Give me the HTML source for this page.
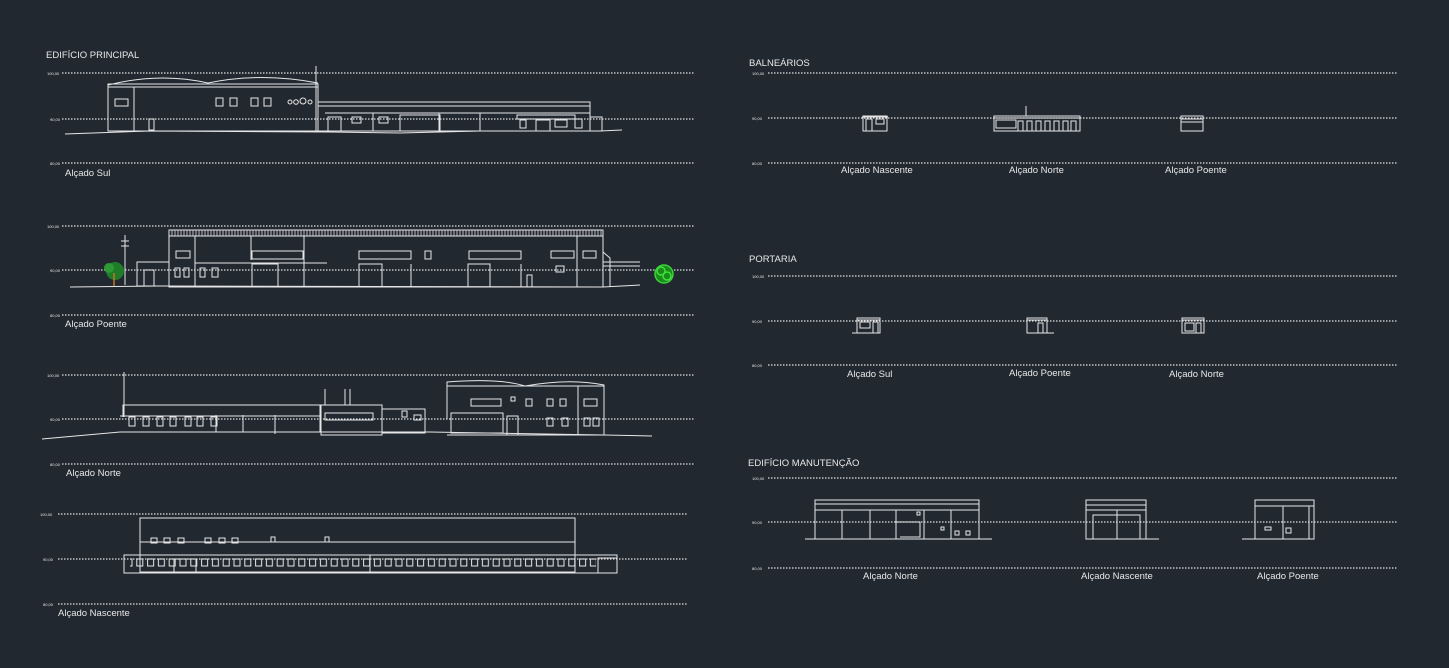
<!DOCTYPE html>
<html><head><meta charset="utf-8"><style>
html,body{margin:0;padding:0;background:#212830;}
svg{display:block}
text{font-family:"Liberation Sans",sans-serif;fill:#e8e8e8}
.d{stroke:#e0e0e0;stroke-width:1.3;stroke-dasharray:1.5 1.5;fill:none}
.s{stroke:#e6e6e6;stroke-width:1;fill:none}
.lv{font-size:4px}
.lb{font-size:9.5px}
.t{font-size:9.5px}
</style></head><body>
<svg width="1449" height="668" viewBox="0 0 1449 668" xmlns="http://www.w3.org/2000/svg">
<defs>
<pattern id="win" x="124" y="557" width="10.8" height="12" patternUnits="userSpaceOnUse">
<rect x="2" y="2" width="6" height="7" fill="none" stroke="#e6e6e6" stroke-width="1"/>
</pattern>
<pattern id="rail" x="0" y="0" width="3" height="6" patternUnits="userSpaceOnUse">
<line x1="1" y1="0" x2="1" y2="6" stroke="#ddd" stroke-width="0.8"/>
</pattern>
</defs>

<text x="46" y="58" class="t">EDIFÍCIO PRINCIPAL</text>
<text x="749" y="66" class="t">BALNEÁRIOS</text>
<text x="749" y="262" class="t">PORTARIA</text>
<text x="748" y="466" class="t">EDIFÍCIO MANUTENÇÃO</text>

<g class="d">
<line x1="62" y1="73" x2="695" y2="73"/><line x1="62" y1="119" x2="695" y2="119"/><line x1="62" y1="163" x2="695" y2="163"/>
<line x1="62" y1="226" x2="695" y2="226"/><line x1="62" y1="270" x2="695" y2="270"/><line x1="62" y1="315" x2="695" y2="315"/>
<line x1="62" y1="375" x2="695" y2="375"/><line x1="62" y1="419" x2="695" y2="419"/><line x1="62" y1="464" x2="695" y2="464"/>
<line x1="58" y1="514" x2="688" y2="514"/><line x1="58" y1="559" x2="688" y2="559"/><line x1="58" y1="604" x2="688" y2="604"/>
<line x1="768" y1="73" x2="1397" y2="73"/><line x1="768" y1="118" x2="1397" y2="118"/><line x1="768" y1="163" x2="1397" y2="163"/>
<line x1="768" y1="276" x2="1397" y2="276"/><line x1="768" y1="321" x2="1397" y2="321"/><line x1="768" y1="365" x2="1397" y2="365"/>
<line x1="768" y1="478" x2="1397" y2="478"/><line x1="768" y1="522" x2="1397" y2="522"/><line x1="768" y1="568" x2="1397" y2="568"/>
</g>
<g class="lv">
<text x="47" y="75">100,00</text><text x="50" y="121">90,00</text><text x="50" y="165">80,00</text>
<text x="47" y="228">100,00</text><text x="50" y="272">90,00</text><text x="50" y="317">80,00</text>
<text x="47" y="377">100,00</text><text x="50" y="421">90,00</text><text x="50" y="466">80,00</text>
<text x="40" y="516">100,00</text><text x="43" y="561">90,00</text><text x="43" y="606">80,00</text>
<text x="752" y="75">100,00</text><text x="752" y="120">90,00</text><text x="752" y="165">80,00</text>
<text x="752" y="278">100,00</text><text x="752" y="323">90,00</text><text x="752" y="367">80,00</text>
<text x="752" y="480">100,00</text><text x="752" y="524">90,00</text><text x="752" y="570">80,00</text>
</g>

<g class="lb">
<text x="65" y="176">Alçado Sul</text>
<text x="65" y="327">Alçado Poente</text>
<text x="66" y="476">Alçado Norte</text>
<text x="58" y="616">Alçado Nascente</text>
<text x="841" y="173">Alçado Nascente</text>
<text x="1009" y="173">Alçado Norte</text>
<text x="1165" y="173">Alçado Poente</text>
<text x="847" y="377">Alçado Sul</text>
<text x="1009" y="376">Alçado Poente</text>
<text x="1169" y="377">Alçado Norte</text>
<text x="863" y="579">Alçado Norte</text>
<text x="1081" y="579">Alçado Nascente</text>
<text x="1257" y="579">Alçado Poente</text>
</g>

<!-- ALÇADO SUL -->
<g class="s">
<path d="M108 85 Q160 72 208 83 Q260 72 318 83"/>
<rect x="108" y="84" width="210" height="47"/>
<line x1="108" y1="87" x2="318" y2="87"/>
<line x1="134" y1="87" x2="134" y2="131"/>
<rect x="115" y="99" width="13" height="7"/>
<rect x="216" y="98" width="7" height="8"/><rect x="230" y="98" width="7" height="8"/>
<rect x="251" y="98" width="7" height="8"/><rect x="264" y="98" width="7" height="8"/>
<circle cx="290" cy="102" r="2"/><circle cx="296" cy="102" r="2.3"/><circle cx="303" cy="101" r="3"/><circle cx="310" cy="102" r="2"/>
<line x1="316" y1="66" x2="316" y2="131"/>
<rect x="149" y="119" width="5" height="11"/>
<rect x="318" y="102" width="272" height="29"/>
<line x1="318" y1="106" x2="590" y2="106"/>
<line x1="325" y1="113" x2="590" y2="113"/>
<line x1="373" y1="113" x2="373" y2="131"/><line x1="439" y1="113" x2="439" y2="131"/><line x1="480" y1="113" x2="480" y2="131"/>
<rect x="400" y="115" width="40" height="16"/>
<rect x="328" y="117" width="13" height="14"/>
<rect x="352" y="117" width="9" height="6"/><rect x="379" y="117" width="9" height="6"/>
<rect x="517" y="115" width="58" height="4"/>
<rect x="520" y="120" width="6" height="8"/><rect x="536" y="120" width="14" height="11"/><rect x="555" y="120" width="12" height="7"/><rect x="575" y="119" width="7" height="9"/>
<rect x="590" y="117" width="12" height="14"/>
<path d="M65 134 L150 131 L330 132 L400 133 L480 131 L600 131 L622 130"/>
</g>

<!-- ALÇADO POENTE -->
<g class="s">
<rect x="169" y="230" width="434" height="57"/>
<rect x="169" y="230" width="434" height="6" fill="url(#rail)"/>
<line x1="195" y1="236" x2="195" y2="287"/><line x1="577" y1="236" x2="577" y2="287"/>
<line x1="251" y1="236" x2="251" y2="260"/><line x1="304" y1="236" x2="304" y2="287"/>
<rect x="252" y="251" width="51" height="8"/>
<rect x="359" y="251" width="52" height="8"/>
<rect x="469" y="251" width="52" height="8"/>
<rect x="425" y="251" width="6" height="8"/><rect x="551" y="251" width="23" height="7"/><rect x="583" y="251" width="13" height="7"/>
<rect x="176" y="251" width="14" height="7"/>
<line x1="195" y1="263" x2="327" y2="263"/>
<rect x="252" y="264" width="26" height="23"/><rect x="359" y="264" width="23" height="23"/><rect x="468" y="264" width="22" height="23"/>
<line x1="411" y1="264" x2="411" y2="287"/><line x1="521" y1="264" x2="521" y2="287"/>
<rect x="175" y="268" width="5" height="9"/><rect x="184" y="268" width="5" height="9"/><rect x="200" y="268" width="5" height="9"/><rect x="212" y="268" width="6" height="9"/>
<rect x="556" y="266" width="8" height="6"/><rect x="527" y="275" width="5" height="12"/>
<line x1="125" y1="235" x2="125" y2="285"/><line x1="121" y1="241" x2="129" y2="241"/><line x1="121" y1="246" x2="129" y2="246"/>
<rect x="137" y="262" width="32" height="24"/><rect x="144" y="270" width="10" height="16"/>
<path d="M603 252 L610 258 L610 287 M603 262 L640 262 M603 266 L640 266"/>
<path d="M70 287 L160 286 L603 287 L640 285"/>
</g>
<circle cx="115" cy="271" r="9" fill="#1f7d28"/>
<circle cx="109" cy="268" r="5" fill="#2e9a35"/>
<line x1="114" y1="273" x2="114" y2="286" stroke="#c4742a" stroke-width="1.5"/>
<circle cx="664" cy="274" r="9" fill="#1a8a1a"/>
<circle cx="661" cy="271" r="4" fill="none" stroke="#3ee03e" stroke-width="1.5"/>
<circle cx="667" cy="276" r="4" fill="none" stroke="#3ee03e" stroke-width="1.5"/>
<circle cx="664" cy="274" r="9" fill="none" stroke="#3ad13a" stroke-width="1.5"/>

<!-- ALÇADO NORTE -->
<g class="s">
<line x1="124" y1="372" x2="124" y2="417"/>
<path d="M123 417 L123 405 L320 405 L320 432"/>
<line x1="120" y1="416" x2="320" y2="416"/>
<rect x="129" y="417" width="6" height="9"/><rect x="143" y="417" width="6" height="9"/><rect x="157" y="417" width="6" height="9"/><rect x="170" y="417" width="6" height="9"/><rect x="185" y="417" width="6" height="9"/><rect x="197" y="417" width="6" height="9"/><rect x="211" y="417" width="6" height="9"/>
<line x1="216" y1="415" x2="216" y2="432"/><line x1="243" y1="415" x2="243" y2="432"/><line x1="275" y1="415" x2="275" y2="434"/>
<rect x="321" y="405" width="61" height="30"/>
<rect x="325" y="413" width="48" height="7"/>
<rect x="382" y="409" width="43" height="24"/>
<line x1="325" y1="389" x2="325" y2="405"/><line x1="345" y1="389" x2="345" y2="405"/><line x1="350" y1="389" x2="350" y2="405"/>
<rect x="402" y="411" width="5" height="6"/><rect x="414" y="415" width="7" height="5"/>
<path d="M447 419 L447 382 Q500 378 525 386 Q570 378 604 385 L604 435 L447 435"/>
<line x1="447" y1="386" x2="604" y2="386"/>
<line x1="578" y1="386" x2="578" y2="435"/>
<rect x="471" y="399" width="30" height="7"/><rect x="511" y="397" width="4" height="4"/>
<rect x="526" y="399" width="6" height="7"/><rect x="547" y="399" width="6" height="7"/><rect x="560" y="399" width="6" height="7"/><rect x="584" y="399" width="13" height="7"/>
<rect x="451" y="413" width="52" height="20"/><rect x="507" y="416" width="11" height="19"/>
<rect x="547" y="418" width="6" height="8"/><rect x="562" y="418" width="6" height="8"/><rect x="584" y="418" width="6" height="8"/><rect x="593" y="418" width="6" height="8"/>
<path d="M42 439 L120 432 L330 432 L430 432 L604 435 L652 436"/>
</g>

<!-- ALÇADO NASCENTE -->
<g class="s">
<rect x="140" y="518" width="435" height="54"/>
<line x1="140" y1="542" x2="575" y2="542"/>
<rect x="151" y="538" width="6" height="5"/><rect x="164" y="538" width="6" height="5"/><rect x="178" y="538" width="6" height="5"/>
<rect x="205" y="538" width="6" height="5"/><rect x="219" y="538" width="6" height="5"/><rect x="232" y="538" width="6" height="5"/>
<rect x="271" y="537" width="4" height="5"/><rect x="325" y="537" width="4" height="5"/>
<rect x="124" y="555" width="493" height="18"/>
<rect x="130" y="557" width="466" height="12" fill="url(#win)" stroke="none"/>
<line x1="370" y1="555" x2="370" y2="573"/>
<rect x="174" y="559" width="22" height="14"/>
<rect x="598" y="558" width="19" height="15"/>
</g>

<!-- BALNEÁRIOS -->
<g class="s">
<rect x="863" y="116" width="24" height="15"/><line x1="862" y1="117" x2="888" y2="117"/><rect x="866" y="119" width="6" height="12"/><rect x="876" y="119" width="8" height="5"/>
<line x1="1026" y1="106" x2="1026" y2="116"/>
<rect x="994" y="116" width="86" height="15"/><line x1="993" y1="118" x2="1081" y2="118"/>
<rect x="996" y="120" width="20" height="8"/>
<rect x="1018" y="121" width="5" height="10"/><rect x="1027" y="121" width="5" height="10"/><rect x="1036" y="121" width="5" height="10"/><rect x="1045" y="121" width="5" height="10"/><rect x="1054" y="121" width="5" height="10"/><rect x="1063" y="121" width="5" height="10"/><rect x="1071" y="121" width="5" height="10"/>
<rect x="1181" y="116" width="22" height="15"/><line x1="1181" y1="119" x2="1203" y2="119"/><line x1="1181" y1="122" x2="1203" y2="122"/>
</g>

<!-- PORTARIA -->
<g class="s">
<rect x="857" y="318" width="23" height="15"/><line x1="857" y1="320" x2="880" y2="320"/><rect x="860" y="322" width="10" height="6"/><rect x="873" y="322" width="5" height="11"/><line x1="852" y1="333" x2="880" y2="333"/>
<rect x="1027" y="318" width="20" height="15"/><line x1="1027" y1="320" x2="1047" y2="320"/><rect x="1038" y="323" width="5" height="10"/><line x1="1047" y1="333" x2="1054" y2="333"/>
<rect x="1182" y="318" width="22" height="15"/><line x1="1182" y1="320" x2="1204" y2="320"/><rect x="1185" y="323" width="9" height="8"/><rect x="1196" y="323" width="5" height="10"/>
</g>

<!-- MANUTENÇÃO -->
<g class="s">
<rect x="815" y="500" width="164" height="39"/><line x1="815" y1="504" x2="979" y2="504"/><line x1="815" y1="510" x2="979" y2="510"/>
<line x1="842" y1="510" x2="842" y2="539"/><line x1="870" y1="510" x2="870" y2="539"/><line x1="896" y1="510" x2="896" y2="539"/><line x1="924" y1="510" x2="924" y2="539"/><line x1="951" y1="510" x2="951" y2="539"/>
<path d="M896 522 L920 522 L920 537 L900 537"/>
<rect x="917" y="512" width="3" height="3"/><rect x="941" y="527" width="3" height="3"/><rect x="955" y="531" width="4" height="4"/><rect x="966" y="531" width="4" height="4"/>
<line x1="805" y1="539" x2="992" y2="539"/>
<rect x="1086" y="500" width="60" height="39"/><line x1="1086" y1="505" x2="1146" y2="505"/><line x1="1086" y1="510" x2="1146" y2="510"/>
<rect x="1093" y="515" width="47" height="24"/><line x1="1117" y1="510" x2="1117" y2="539"/>
<line x1="1146" y1="539" x2="1159" y2="539"/>
<rect x="1255" y="500" width="59" height="39"/><line x1="1255" y1="506" x2="1314" y2="506"/><line x1="1283" y1="506" x2="1283" y2="539"/><line x1="1309" y1="506" x2="1309" y2="539"/>
<rect x="1265" y="527" width="6" height="3"/><rect x="1286" y="528" width="5" height="5"/>
<line x1="1242" y1="539" x2="1314" y2="539"/>
</g>
</svg>
</body></html>
